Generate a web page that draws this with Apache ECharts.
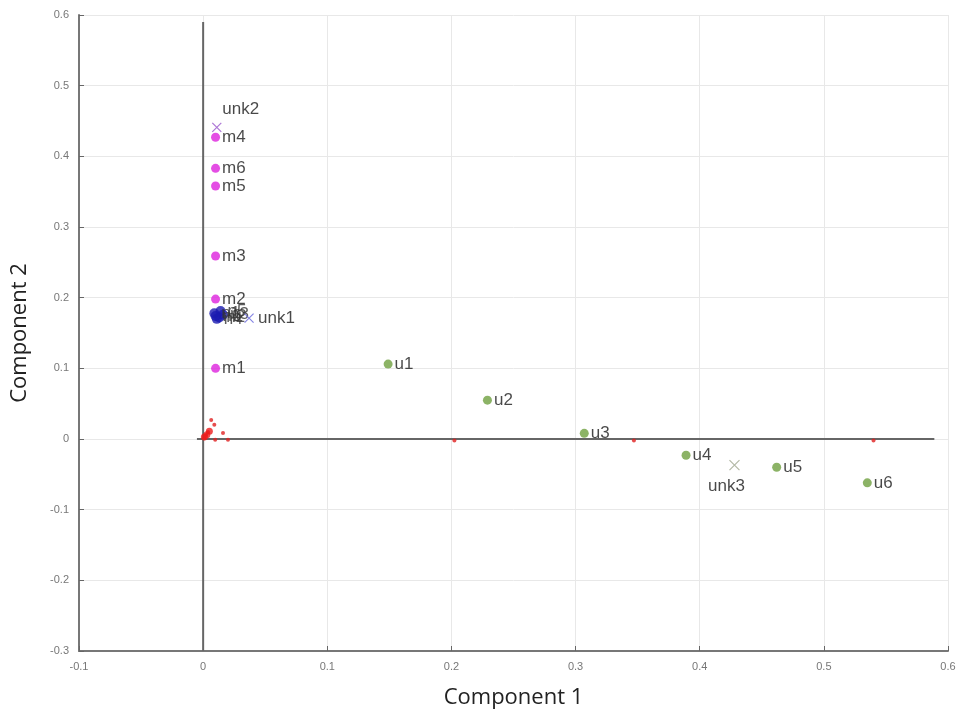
<!DOCTYPE html>
<html><head><meta charset="utf-8">
<script src="https://cdn.jsdelivr.net/npm/echarts@6/dist/echarts.min.js"></script>
<style>html,body{margin:0;padding:0;background:#fff}#c{width:965px;height:719px}</style>
</head><body><div id="c"></div>
<script>
// Data
const mNames = ['m1','m2','m3','m4','m5','m6'];
const mX = [0.010, 0.010, 0.010, 0.010, 0.010, 0.010];
const mY = [0.100, 0.198, 0.259, 0.427, 0.358, 0.383];

const nNames = ['n1','n2','n3','n4','n5','n6'];
const nX = [0.009, 0.013, 0.016, 0.011, 0.014, 0.010];
const nY = [0.178, 0.172, 0.176, 0.170, 0.181, 0.174];

const uNames = ['u1','u2','u3','u4','u5','u6'];
const uX = [0.149, 0.229, 0.307, 0.389, 0.462, 0.535];
const uY = [0.106, 0.055, 0.008, -0.023, -0.040, -0.062];

const unkNames = ['unk1','unk2','unk3'];
const unkX = [0.037, 0.011, 0.428];
const unkY = [0.171, 0.441, -0.037];

const redX = [0.001, 0.0024, 0.004, 0.0065, 0.009, 0.0097, 0.016, 0.020, 0.2024, 0.347, 0.540];
const redY = [0.001, 0.0057, 0.010, 0.027, 0.020, -0.001, 0.0085, -0.001, -0.002, -0.002, -0.002];
const redBlobX = [0.001, 0.003, 0.005];
const redBlobY = [0.003, 0.006, 0.011];

const xTicks = [-0.1, 0, 0.1, 0.2, 0.3, 0.4, 0.5, 0.6];
const yTicks = [-0.3, -0.2, -0.1, 0, 0.1, 0.2, 0.3, 0.4, 0.5, 0.6];

const zip = (xs, ys, names) => xs.map((x, i) => names ? {value:[x, ys[i]], name:names[i]} : [x, ys[i]]);

const labelStyle = {show:true, position:'right', distance:2, color:'#1a1a1a', fontSize:17, fontFamily:'Liberation Sans', formatter: p => p.name};
const cross = 'path://M0,0L10,10M10,0L0,10';

const chart = echarts.init(document.getElementById('c'));
chart.setOption({
  animation:false,
  grid:{left:79, right:17, top:15, bottom:68},
  xAxis:{type:'value', min:-0.1, max:0.6, interval:0.1,
    name:'Component 1', nameLocation:'middle', nameGap:36,
    nameTextStyle:{fontSize:22, color:'#222', fontFamily:'Open Sans'},
    axisLine:{show:true, onZero:false, lineStyle:{color:'#777', width:2}},
    axisTick:{show:true, inside:true, length:5, lineStyle:{color:'#666'}},
    axisLabel:{color:'#777', fontSize:11, fontFamily:'Liberation Sans', margin:10},
    splitLine:{show:true, lineStyle:{color:'#e8e8e8', width:1}}},
  yAxis:{type:'value', min:-0.3, max:0.6, interval:0.1,
    name:'Component 2', nameLocation:'middle', nameGap:48,
    nameTextStyle:{fontSize:22, color:'#222', fontFamily:'Open Sans'},
    axisLine:{show:true, onZero:false, lineStyle:{color:'#777', width:2}},
    axisTick:{show:true, inside:true, length:5, lineStyle:{color:'#666'}},
    axisLabel:{color:'#777', fontSize:11, fontFamily:'Liberation Sans', margin:10},
    splitLine:{show:true, lineStyle:{color:'#e8e8e8', width:1}}},
  series:[
    {type:'line', data:[[0,0.59],[0,-0.3]], symbol:'none', lineStyle:{color:'#666', width:2}, z:1},
    {type:'line', data:[[-0.005,0],[0.589,0]], symbol:'none', lineStyle:{color:'#666', width:2}, z:1},
    {type:'scatter', data:zip(redX, redY), symbolSize:4, itemStyle:{color:'#e02020'}, z:3},
    {type:'scatter', data:zip(redBlobX, redBlobY), symbolSize:7, itemStyle:{color:'#ee1c1c'}, z:3},
    {type:'scatter', data:zip(nX, nY, nNames), symbolSize:10, itemStyle:{color:'#1a1ab0'},
      label:Object.assign({}, labelStyle, {color:'#333'}), z:4},
    {type:'scatter', data:zip(mX, mY, mNames), symbolSize:9, itemStyle:{color:'#dd22dd'}, label:labelStyle, z:5},
    {type:'scatter', data:zip(uX, uY, uNames), symbolSize:9, itemStyle:{color:'#6fa040'}, label:labelStyle, z:5},
    {type:'scatter', data:[{value:[unkX[0],unkY[0]], name:unkNames[0]}], symbol:cross, symbolSize:9,
      itemStyle:{color:'none', borderColor:'#6666dd', borderWidth:1.2}, label:labelStyle, z:6},
    {type:'scatter', data:[{value:[unkX[1],unkY[1]], name:unkNames[1]}], symbol:cross, symbolSize:9,
      itemStyle:{color:'none', borderColor:'#9955cc', borderWidth:1.2},
      label:Object.assign({}, labelStyle, {position:'top', distance:3, offset:[24,0]}), z:6},
    {type:'scatter', data:[{value:[unkX[2],unkY[2]], name:unkNames[2]}], symbol:cross, symbolSize:10,
      itemStyle:{color:'none', borderColor:'#a0a890', borderWidth:1.2},
      label:Object.assign({}, labelStyle, {position:'bottom', distance:5, offset:[-8,0]}), z:6}
  ]
});
</script></body></html>
